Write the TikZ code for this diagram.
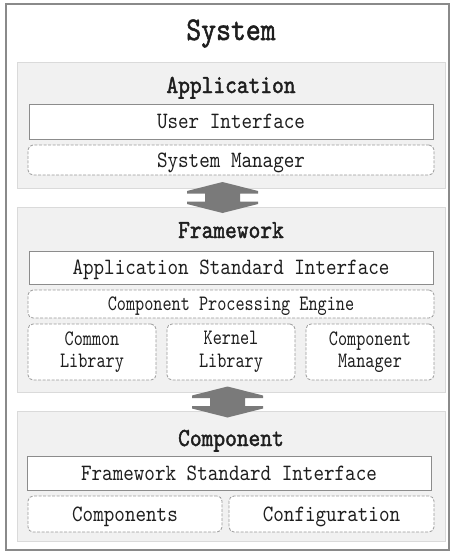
\documentclass[tikz,border=0pt]{standalone}
\usepackage{fontspec}
\usepackage{tikz}
\usetikzlibrary{calc}
\newfontfamily\boxfont[FakeStretch=0.86,AutoFakeBold=1.6]{lmmono10-regular.otf}
\newfontfamily\narrowfont[FakeStretch=0.79]{lmmono10-regular.otf}
\definecolor{panelfill}{HTML}{F1F1F1}
\definecolor{panelline}{HTML}{DADADA}
\definecolor{boxline}{HTML}{8C8C8C}
\definecolor{dashline}{HTML}{9A9A9A}
\definecolor{arrowfill}{HTML}{7A7A7A}
\definecolor{framegray}{HTML}{8A8A8A}
\definecolor{ink}{HTML}{1E1E1E}

\begin{document}
\begin{tikzpicture}[x=1pt,y=-1pt,text=ink]
	\def \titleht{40}
	\def \appht{125}
	\def \fwht{299.5}
	\def \compht{476}
	\def \mid{231}
	%\def \libht{352}
	\tikzstyle{frame}=[draw=framegray,line width=1.4pt,minimum width=443pt,minimum height=546pt,inner sep=0pt]
	\tikzstyle{panel}=[draw=panelline,fill=panelfill,line width=0.8pt,minimum width=428pt,inner sep=0pt]
	\tikzstyle{head}=[anchor=base,inner sep=0pt,font=\boxfont\bfseries\fontsize{26pt}{26pt}\selectfont]
	\tikzstyle{s-box}=[draw=boxline,fill=white,line width=0.9pt,inner sep=0pt,text height=14pt,text depth=0pt,font=\boxfont\fontsize{23.4pt}{23.4pt}\selectfont]
	\tikzstyle{d-box}=[draw=dashline,fill=white,line width=0.8pt,dash pattern=on 3pt off 1.5pt,rounded corners=5pt,inner sep=0pt,text height=14pt,text depth=0pt,font=\boxfont\fontsize{23.4pt}{23.4pt}\selectfont]
	\tikzstyle{l-box}=[d-box,text height=,text depth=,align=center,minimum width=128pt,minimum height=56pt,font=\narrowfont\fontsize{22pt}{22.5pt}\selectfont]
	\tikzstyle{dblarrow}=[fill=arrowfill]
	\useasboundingbox (0,0) rectangle (451,552);

	% outer frame
	\node[frame] (sys) at (227.5,277) {};
	\node[anchor=base,inner sep=0pt,font=\boxfont\bfseries\fontsize{33pt}{33pt}\selectfont] (systitle) at (\mid,\titleht) {System};

	% application layer
	\node[panel,minimum height=126pt] (app) at (\mid,\appht) {};
	\node[head] (apptitle) at (\mid,93) {Application};
	\node[s-box,minimum width=404pt,minimum height=35pt] (ui) at (\mid,121.5) {User Interface};
	\node[d-box,minimum width=406pt,minimum height=30pt] (sysmgr) at (\mid,160) {System Manager};

	% framework layer
	\node[panel,minimum height=185pt] (fw) at (\mid,\fwht) {};
	\node[head] (fwtitle) at (\mid,238) {Framework};
	\node[s-box,minimum width=404pt,minimum height=33pt] (asi) at (\mid,267.5) {Application Standard Interface};
	\node[d-box,minimum width=406pt,minimum height=28pt,text height=13.5pt,font=\narrowfont\fontsize{22pt}{22pt}\selectfont] (cpe) at (\mid,304) {Component Processing Engine};
	\node[l-box] (comlib) at (92,352) {Common\\Library};
	\node[l-box] (kernlib) at (\mid,352) {Kernel\\Library};
	\node[l-box] (compmgr) at (370,352) {Component\\Manager};

	% component layer
	\node[panel,minimum height=130pt] (comp) at (\mid,\compht) {};
	\node[head] (comptitle) at (\mid,446) {Component};
	\node[s-box,minimum width=404pt,minimum height=34pt] (fsi) at (229,473) {Framework Standard Interface};
	\node[d-box,minimum width=194pt,minimum height=36pt] (comps) at (125,514) {Components};
	\node[d-box,minimum width=205pt,minimum height=36pt] (config) at (331.5,514) {Configuration};

	% arrows between layers
	\coordinate (a1) at (222.5,197.5);
	\coordinate (a2) at (227.5,402);
	\foreach \a in {a1,a2}
		\fill[dblarrow] (\a) ++(0,-15.5) -- ++(35.5,9) -- ++(0,2.5) -- ++(-18,0) -- ++(0,8)
			-- ++(18,0) -- ++(0,2.5) -- ++(-35.5,9) -- ++(-35.5,-9) -- ++(0,-2.5)
			-- ++(18,0) -- ++(0,-8) -- ++(-18,0) -- ++(0,-2.5) -- cycle;
\end{tikzpicture}
\end{document}
